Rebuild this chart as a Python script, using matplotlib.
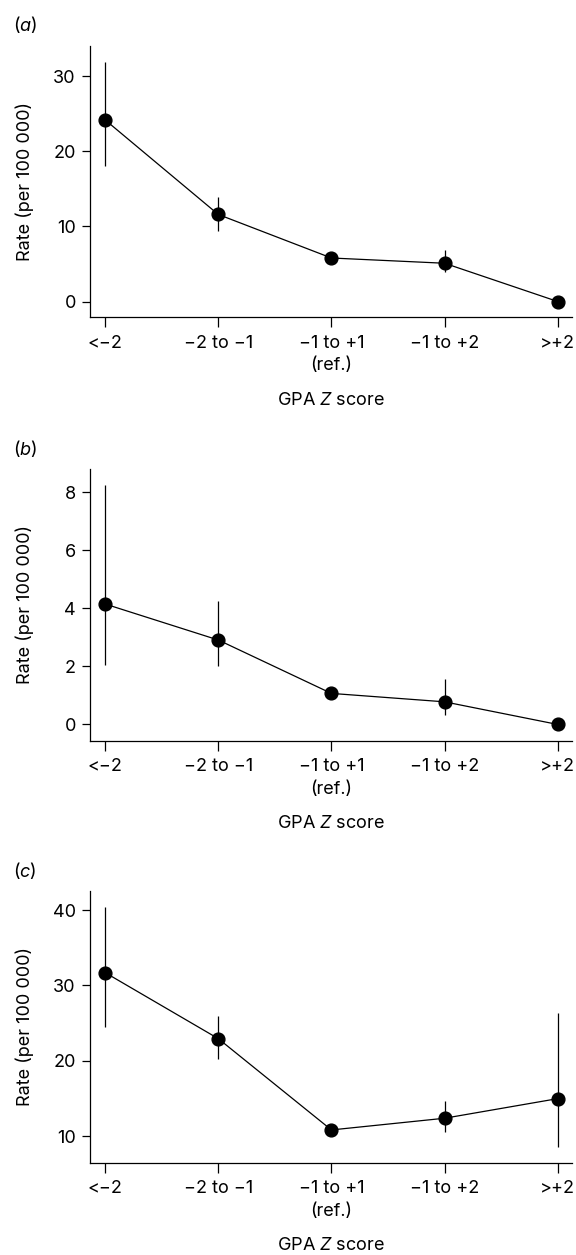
import matplotlib.pyplot as plt

plt.rcParams['font.family'] = ['Inter', 'Liberation Sans', 'DejaVu Sans']
plt.rcParams['mathtext.fontset'] = 'custom'
plt.rcParams['mathtext.rm'] = 'Inter'
plt.rcParams['mathtext.it'] = 'Inter:italic'

categories = ["<\u22122", "\u22122 to \u22121", "\u22121 to +1\n(ref.)", "\u22121 to +2", ">+2"]

# panel (a)
rate_a = [24.2, 11.6, 5.8, 5.1, 0.0]
low_a = [18.1, 9.4, 5.4, 3.9, 0.0]
high_a = [31.9, 13.9, 6.2, 6.8, 0.0]

# panel (b)
rate_b = [4.15, 2.91, 1.07, 0.78, 0.0]
low_b = [2.04, 2.02, 1.0, 0.34, 0.0]
high_b = [8.26, 4.27, 1.14, 1.58, 0.0]

# panel (c)
rate_c = [31.7, 22.95, 10.85, 12.4, 15.0]
low_c = [24.5, 20.3, 10.6, 10.6, 8.6]
high_c = [40.4, 26.0, 11.1, 14.7, 26.3]

panels = [
    ("a", rate_a, low_a, high_a, [0, 10, 20, 30], (-2.1, 34.1), 0.7472),
    ("b", rate_b, low_b, high_b, [0, 2, 4, 6, 8], (-0.56, 8.8), 0.4098),
    ("c", rate_c, low_c, high_c, [10, 20, 30, 40], (6.5, 42.5), 0.0735),
]

FS = 13

fig = plt.figure(figsize=(5.76, 12.55), dpi=100)

for letter, rate, low, high, yticks, ylim, bottom in panels:
    ax = fig.add_axes([0.1557, bottom, 0.838, 0.2164])
    x = list(range(len(categories)))
    ax.vlines(x, low, high, color="black", linewidth=0.9)
    ax.plot(x, rate, color="black", linewidth=0.9, marker="o", markersize=9.2)

    ax.set_xlim(-0.137, 4.13)
    ax.set_ylim(*ylim)
    ax.set_xticks(x)
    ax.set_xticklabels(categories, fontsize=FS, linespacing=1.45)
    ax.set_yticks(yticks)
    ax.tick_params(axis="y", labelsize=FS, length=6, width=0.9, pad=4)
    ax.tick_params(axis="x", length=7.5, width=0.9, pad=5)
    for side in ("top", "right"):
        ax.spines[side].set_visible(False)
    for side in ("left", "bottom"):
        ax.spines[side].set_linewidth(0.9)

    ax.set_ylabel("Rate (per 100 000)", fontsize=FS)
    ax.yaxis.set_label_coords(-0.116, 0.5)
    ax.set_xlabel("GPA $\\mathit{Z}$ score", fontsize=FS)
    ax.xaxis.set_label_coords(0.5, -0.275)

    fig.text(0.022, bottom + 0.2164 + 0.0165, "($\\mathit{%s}$)" % letter,
             fontsize=FS, va="center", ha="left")

fig.savefig("out.png", dpi=100)
